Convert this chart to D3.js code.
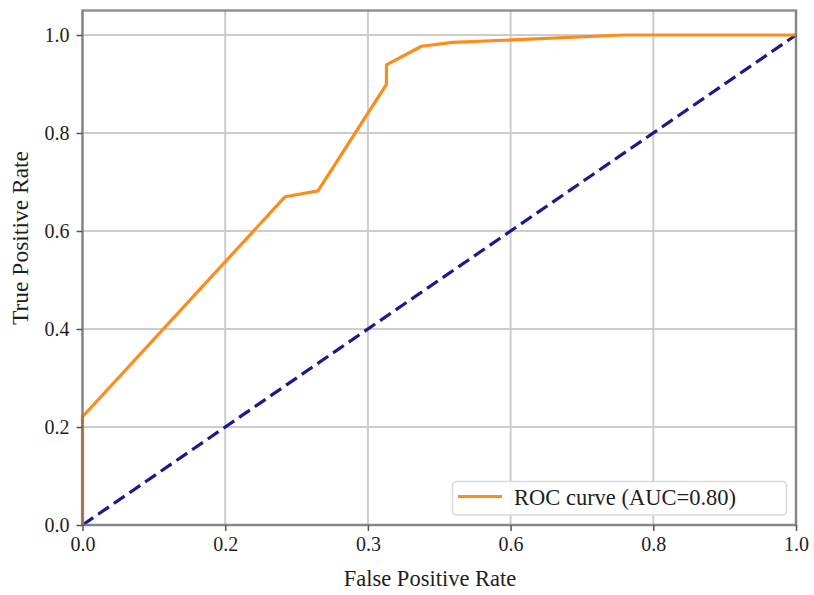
<!DOCTYPE html>
<html>
<head>
<meta charset="utf-8">
<script src="https://cdn.jsdelivr.net/npm/d3@7"></script>
<style>
  body { margin: 0; background: #fff; }
  text { font-family: "Liberation Serif", "Times New Roman", serif; fill: #1e1e1e; }
</style>
</head>
<body>
<svg id="chart" width="814" height="595"></svg>
<script>
// ROC curve points (false positive rate, true positive rate)
const fpr = [0, 0, 0.284, 0.330, 0.426, 0.426, 0.475, 0.519, 0.603, 0.758, 1.0];
const tpr = [0, 0.221, 0.670, 0.682, 0.899, 0.939, 0.977, 0.985, 0.990, 1.0, 1.0];
// Chance diagonal
const chanceX = [0, 1];
const chanceY = [0, 1];
// Tick values and their printed labels
const xTickValues = [0, 0.2, 0.4, 0.6, 0.8, 1.0];
const xTickLabels = ["0.0", "0.2", "0.3", "0.6", "0.8", "1.0"];
const yTickValues = [0, 0.2, 0.4, 0.6, 0.8, 1.0];
const yTickLabels = ["0.0", "0.2", "0.4", "0.6", "0.8", "1.0"];
const legendLabel = "ROC curve (AUC=0.80)";
const xTitle = "False Positive Rate";
const yTitle = "True Positive Rate";

const svg = d3.select("#chart");
const plotLeft = 82.5, plotRight = 796, plotTop = 10.5, plotBottom = 525;

const x = d3.scaleLinear().domain([0, 1]).range([plotLeft, plotRight]);
const y = d3.scaleLinear().domain([0, 1.05]).range([plotBottom, plotTop]);

// grid
const grid = svg.append("g").attr("stroke", "#cdcdcd").attr("stroke-width", 2);
grid.selectAll("line.v").data(xTickValues).join("line")
  .attr("class", "v")
  .attr("x1", d => x(d)).attr("x2", d => x(d))
  .attr("y1", plotTop).attr("y2", plotBottom);
grid.selectAll("line.h").data(yTickValues).join("line")
  .attr("class", "h")
  .attr("x1", plotLeft).attr("x2", plotRight)
  .attr("y1", d => y(d)).attr("y2", d => y(d));

// chance line
const chance = chanceX.map((v, i) => [v, chanceY[i]]);
svg.append("path")
  .datum(chance)
  .attr("fill", "none")
  .attr("stroke", "#1a1a8c")
  .attr("stroke-width", 3.2)
  .attr("stroke-dasharray", "13,6")
  .attr("d", d3.line().x(d => x(d[0])).y(d => y(d[1])));

// ROC curve
const roc = fpr.map((v, i) => [v, tpr[i]]);
svg.append("path")
  .datum(roc)
  .attr("fill", "none")
  .attr("stroke", "#ff8c1a")
  .attr("stroke-width", 3.2)
  .attr("stroke-linejoin", "round")
  .attr("d", d3.line().x(d => x(d[0])).y(d => y(d[1])));

// frame
svg.append("rect")
  .attr("x", plotLeft).attr("y", plotTop)
  .attr("width", plotRight - plotLeft).attr("height", plotBottom - plotTop)
  .attr("fill", "none")
  .attr("stroke", "#6e6e6e")
  .attr("stroke-opacity", 0.75)
  .attr("stroke-width", 2.5);

// axes
const xAxis = svg.append("g")
  .attr("transform", `translate(0,${plotBottom})`)
  .call(d3.axisBottom(x).tickValues(xTickValues)
    .tickFormat((d, i) => xTickLabels[i]).tickSize(6).tickPadding(6));
const yAxis = svg.append("g")
  .attr("transform", `translate(${plotLeft},0)`)
  .call(d3.axisLeft(y).tickValues(yTickValues)
    .tickFormat((d, i) => yTickLabels[i]).tickSize(6).tickPadding(7));
[xAxis, yAxis].forEach(g => {
  g.select(".domain").remove();
  g.selectAll(".tick line").attr("stroke", "#555").attr("stroke-width", 1.5);
  g.selectAll(".tick text")
    .style("font-family", "'Liberation Serif', serif")
    .style("font-size", "20px")
    .attr("fill", "#1e1e1e");
});

// axis titles
svg.append("text")
  .attr("x", 430).attr("y", 586)
  .attr("text-anchor", "middle")
  .style("font-size", "22.5px")
  .text(xTitle);
svg.append("text")
  .attr("transform", "translate(28,238) rotate(-90)")
  .attr("text-anchor", "middle")
  .style("font-size", "23.5px")
  .text(yTitle);

// legend
const lg = svg.append("g");
lg.append("rect")
  .attr("x", 452.5).attr("y", 481.5)
  .attr("width", 334).attr("height", 33.5)
  .attr("rx", 4)
  .attr("fill", "#fff").attr("fill-opacity", 0.85)
  .attr("stroke", "#d9d9d9").attr("stroke-width", 1.5);
lg.append("line")
  .attr("x1", 458).attr("x2", 502)
  .attr("y1", 496.5).attr("y2", 496.5)
  .attr("stroke", "#ff8c1a").attr("stroke-width", 3.2);
lg.append("text")
  .attr("x", 514).attr("y", 504.5)
  .style("font-size", "22.5px")
  .text(legendLabel);
</script>
</body>
</html>
